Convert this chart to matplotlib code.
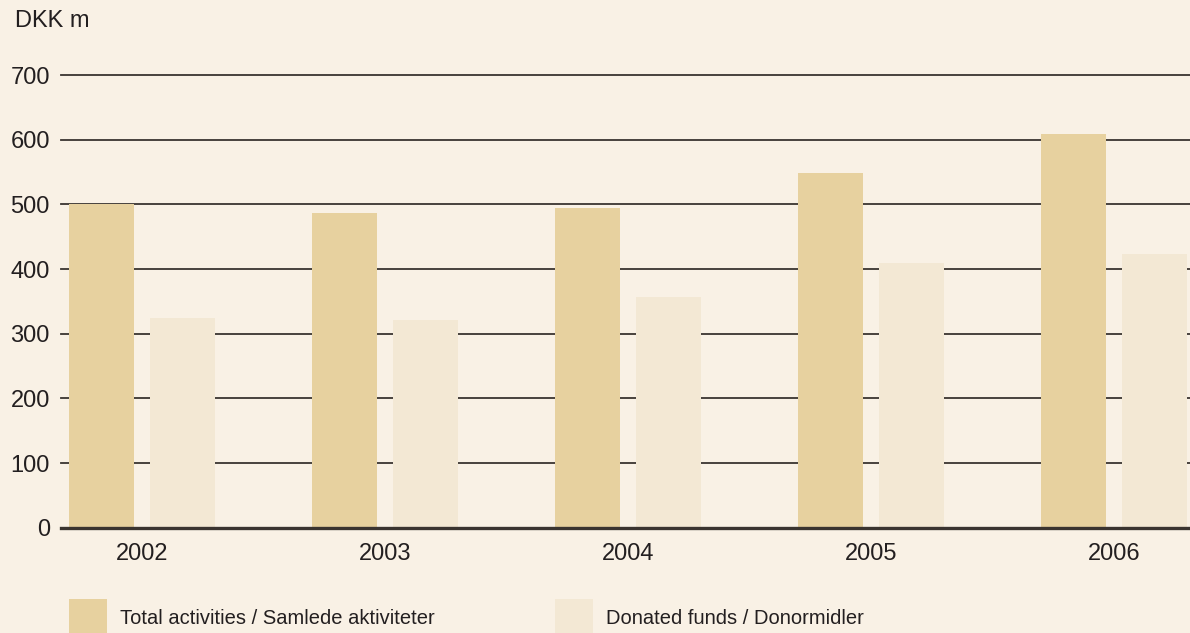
import matplotlib
matplotlib.use("Agg")
import matplotlib.pyplot as plt
import numpy as np
from matplotlib.patches import Rectangle

years = ["2002", "2003", "2004", "2005", "2006"]
total_activities = [500, 487, 495, 549, 609]
donated_funds = [324, 321, 356, 410, 423]
yticks = [0, 100, 200, 300, 400, 500, 600, 700]
legend_labels = ["Total activities / Samlede aktiviteter", "Donated funds / Donormidler"]

BG = "#F9F1E5"
C_TOTAL = "#E7D19F"
C_DON = "#F3E8D4"
GRID = "#3a3430"
TXT = "#231F20"

plt.rcParams["font.family"] = ["Liberation Sans", "DejaVu Sans"]

fig = plt.figure(figsize=(11.9, 6.33), dpi=100, facecolor=BG)
ax = fig.add_axes([61/1190, 1-527.7/633, 1129/1190, (527.7-75)/633])
ax.set_facecolor(BG)

x = np.arange(len(years))
w = 65/243
off = 81/243/2
ax.bar(x - off, total_activities, width=w, color=C_TOTAL, zorder=3)
ax.bar(x + off, donated_funds, width=w, color=C_DON, zorder=3)

ax.set_xlim(-81/243, (1190-142)/243)
ax.set_ylim(0, 700)
ax.set_yticks(yticks)
ax.set_yticklabels([str(v) for v in yticks], fontsize=17, color=TXT)
ax.yaxis.grid(True, color=GRID, linewidth=1.3, zorder=1)
for gl in ax.get_ygridlines():
    gl.set_clip_on(False)
ax.tick_params(axis="y", length=0, pad=8)
ax.set_xticks(x)
ax.set_xticklabels(years, fontsize=17, color=TXT)
ax.tick_params(axis="x", length=0, pad=11)
for s in ["top", "right", "left"]:
    ax.spines[s].set_visible(False)
ax.spines["bottom"].set_color(GRID)
ax.spines["bottom"].set_linewidth(2.4)
ax.spines["bottom"].set_zorder(4)

fig.text(15/1190, 1-21/633, "DKK m", fontsize=17, color=TXT, va="center", ha="left")

# legend
for (x0, x1), col, lab, tx in [((69, 107), C_TOTAL, legend_labels[0], 120),
                               ((555, 593), C_DON, legend_labels[1], 606)]:
    fig.patches.append(Rectangle((x0/1190, 0), (x1-x0)/1190, 34/633,
                                 transform=fig.transFigure, facecolor=col,
                                 edgecolor="none"))
    fig.text(tx/1190, 1-619/633, lab, fontsize=14.5, color=TXT, va="center", ha="left")

fig.savefig("out.png", dpi=100, facecolor=BG)
